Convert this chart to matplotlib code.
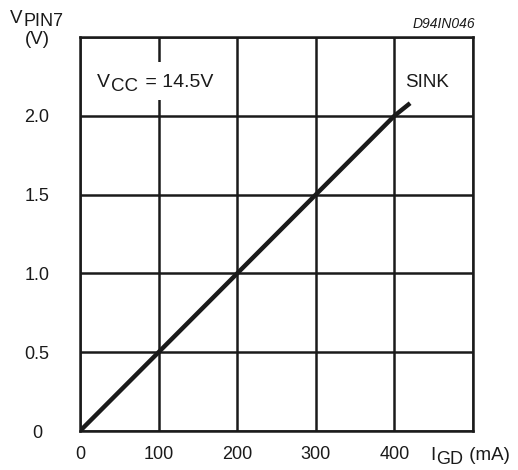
import matplotlib.pyplot as plt

plt.rcParams['font.family'] = ['Liberation Sans', 'DejaVu Sans']

# --- данi кривої SINK ---
i_gd = [0, 100, 200, 300, 400, 420]
v_pin7 = [0, 0.5, 1.0, 1.5, 2.0, 2.08]

x_ticks = [0, 100, 200, 300, 400]
x_labels = ['0', '100', '200', '300', '400']
y_ticks = [0, 0.5, 1.0, 1.5, 2.0]
y_labels = ['0', '0.5', '1.0', '1.5', '2.0']

ink = '#1a1a1a'
W, H = 518, 470

fig = plt.figure(figsize=(W / 100, H / 100), dpi=100)
ax = fig.add_axes([80 / W, 1 - 431 / H, 393 / W, 394 / H])
renderer = fig.canvas.get_renderer()


# --- текст з нижнім індексом (V + CC + ...) в пiкселях ---
def sub_text(px, py, main, sub, rest='', fs=13.5, sfs=13, drop=4, gap=1):
    t = fig.text(px / W, 1 - py / H, main, fontsize=fs, color=ink,
                 va='baseline', ha='left', zorder=5)
    x1 = t.get_window_extent(renderer).x1 + gap
    s = fig.text(x1 / W, 1 - (py + drop) / H, sub, fontsize=sfs, color=ink,
                 va='baseline', ha='left', zorder=5)
    if rest:
        x2 = s.get_window_extent(renderer).x1 + gap
        fig.text(x2 / W, 1 - py / H, rest, fontsize=fs, color=ink,
                 va='baseline', ha='left', zorder=5)


ax.set_xlim(0, 500)
ax.set_ylim(0, 2.5)
ax.set_xticks(x_ticks + [500])
ax.set_xticklabels(x_labels + [''])
ax.set_yticks(y_ticks + [2.5])
ax.set_yticklabels(y_labels + [''])
ax.grid(True, color=ink, linewidth=1.8)
ax.set_axisbelow(True)
for s in ax.spines.values():
    s.set_linewidth(1.8)
    s.set_color(ink)
ax.tick_params(length=0, labelsize=13, colors=ink)
ax.tick_params(axis='x', pad=11)
ax.tick_params(axis='y', pad=31)
for lbl in ax.get_yticklabels():
    lbl.set_horizontalalignment('center')

ax.plot(i_gd, v_pin7, color=ink, linewidth=3.2, solid_capstyle='butt', zorder=3)

# бiла пляма пiд написом VCC, що перериває сiтку
ax.fill_between([40, 150], 2.1, 2.34, color='white', zorder=2, linewidth=0)
sub_text(97, 87, 'V', 'CC', ' = 14.5V', fs=14, sfs=13.5, gap=1.5)

ax.text(413, 2.21, 'SINK', fontsize=13.5, color=ink, va='center', ha='left')

fig.text(413 / W, 1 - 24 / H, 'D94IN046', fontsize=10, style='italic',
         color=ink, va='center', ha='left')
sub_text(10, 23, 'V', 'PIN7', drop=3)
fig.text(37 / W, 1 - 40 / H, '(V)', fontsize=13.5, color=ink,
         va='center', ha='center')
sub_text(430, 460, 'I', 'GD', ' (mA)', drop=4)

fig.savefig('out.png', dpi=100)
